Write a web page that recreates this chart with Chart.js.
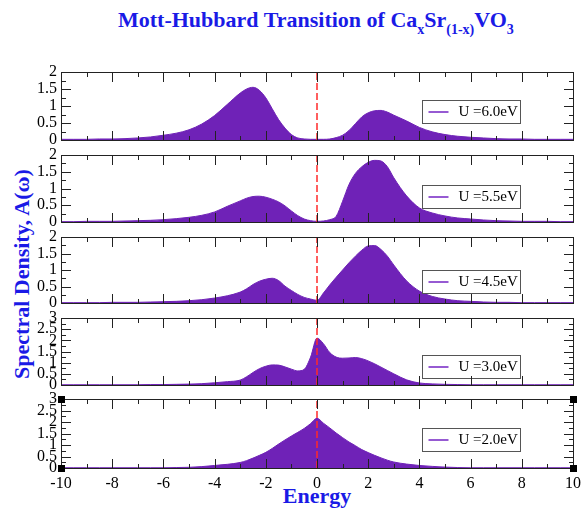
<!DOCTYPE html>
<html>
<head>
<meta charset="utf-8">
<script src="https://cdn.jsdelivr.net/npm/chart.js@4.4.1/dist/chart.umd.min.js"></script>
<style>
  html, body { margin: 0; padding: 0; background: #fff; }
  body { width: 583px; height: 512px; position: relative; overflow: hidden;
         font-family: 'Liberation Serif', 'Times New Roman', serif; }
  canvas { position: absolute; left: 0; }
  .label { position: absolute; font-weight: bold; color: #1a1ae6; white-space: nowrap;
           font-size: 22px; line-height: 22px; }
  #title { left: 118px; top: 9px; }
  #title sub { font-size: 14px; vertical-align: -7px; line-height: 0; }
  #y-title { left: -108px; top: 263px; width: 260px; text-align: center; transform: rotate(-90deg); }
  #x-title { left: 217px; top: 485px; width: 200px; text-align: center; }
  #overlay { position: absolute; left: 0; top: 0; width: 583px; height: 512px; z-index: 5; pointer-events: none; }
  .bar { position: absolute; }
  .box { position: absolute; box-sizing: border-box; border: 1px solid #222; }
</style>
</head>
<body>
<div id="title" class="label">Mott-Hubbard Transition of Ca<sub>x</sub>Sr<sub>(1-x)</sub>VO<sub>3</sub></div>
<div id="y-title" class="label">Spectral Density, A(ω)</div>
<div id="x-title" class="label">Energy</div>
<div id="overlay"></div>
<script>
'use strict';

// energy grid, finer around the Fermi level
const energy = [
    -10, -9.5, -9, -8.5, -8, -7.5, -7, -6.5, -6, -5.5, -5, -4.5, -4, -3.5,
    -3, -2.75, -2.5, -2.25, -2, -1.75, -1.5, -1.25, -1, -0.75, -0.5, -0.25,
    0, 0.25, 0.5, 0.75, 1, 1.25, 1.5, 1.75, 2, 2.25, 2.5, 2.75, 3,
    3.5, 4, 4.5, 5, 5.5, 6, 6.5, 7, 7.5, 8, 8.5, 9, 9.5, 10
];

const dosU60 = [
    0.02, 0.02, 0.02, 0.03, 0.03, 0.04, 0.06, 0.09, 0.14, 0.20, 0.30, 0.47, 0.72, 1.05,
    1.38, 1.50, 1.55, 1.46, 1.24, 0.92, 0.60, 0.35, 0.16, 0.06, 0.03, 0.02,
    0.02, 0.02, 0.03, 0.07, 0.14, 0.28, 0.48, 0.68, 0.80, 0.86, 0.87, 0.82, 0.73,
    0.56, 0.37, 0.24, 0.16, 0.11, 0.08, 0.06, 0.04, 0.03, 0.03, 0.02, 0.02, 0.02, 0.02
];

const dosU55 = [
    0.01, 0.01, 0.02, 0.02, 0.02, 0.03, 0.04, 0.05, 0.07, 0.10, 0.14, 0.20, 0.30, 0.47,
    0.63, 0.71, 0.76, 0.77, 0.74, 0.68, 0.60, 0.48, 0.33, 0.19, 0.09, 0.04,
    0.02, 0.03, 0.07, 0.17, 0.62, 1.12, 1.45, 1.65, 1.78, 1.84, 1.82, 1.65, 1.32,
    0.78, 0.42, 0.27, 0.18, 0.12, 0.09, 0.06, 0.04, 0.03, 0.02, 0.02, 0.02, 0.01, 0.01
];

const dosU45 = [
    0.01, 0.01, 0.01, 0.01, 0.02, 0.02, 0.02, 0.03, 0.04, 0.05, 0.07, 0.10, 0.15, 0.22,
    0.33, 0.43, 0.56, 0.66, 0.72, 0.75, 0.68, 0.51, 0.38, 0.26, 0.17, 0.12,
    0.08, 0.30, 0.55, 0.78, 1.00, 1.22, 1.42, 1.60, 1.73, 1.74, 1.62, 1.42, 1.15,
    0.67, 0.36, 0.20, 0.12, 0.07, 0.05, 0.03, 0.02, 0.02, 0.01, 0.01, 0.01, 0.01, 0.01
];

const dosU30 = [
    0.01, 0.01, 0.01, 0.01, 0.01, 0.01, 0.01, 0.02, 0.02, 0.03, 0.04, 0.06, 0.10, 0.15,
    0.22, 0.37, 0.56, 0.73, 0.84, 0.90, 0.89, 0.81, 0.71, 0.63, 0.70, 1.25,
    2.10, 1.85, 1.45, 1.25, 1.20, 1.21, 1.23, 1.18, 1.08, 0.95, 0.80, 0.65, 0.50,
    0.23, 0.09, 0.05, 0.03, 0.02, 0.01, 0.01, 0.01, 0.01, 0.01, 0.01, 0.01, 0.01, 0.01
];

const dosU20 = [
    0.01, 0.01, 0.01, 0.01, 0.01, 0.01, 0.01, 0.01, 0.01, 0.02, 0.03, 0.06, 0.11, 0.16,
    0.24, 0.32, 0.43, 0.55, 0.68, 0.85, 1.04, 1.22, 1.39, 1.55, 1.72, 1.93,
    2.16, 1.95, 1.74, 1.52, 1.32, 1.13, 0.97, 0.80, 0.67, 0.55, 0.44, 0.34, 0.26,
    0.17, 0.11, 0.07, 0.04, 0.02, 0.01, 0.01, 0.01, 0.01, 0.01, 0.01, 0.01, 0.01, 0.01
];

const seriesLabels = ['U =6.0eV', 'U =5.5eV', 'U =4.5eV', 'U =3.0eV', 'U =2.0eV'];
const seriesValues = [dosU60, dosU55, dosU45, dosU30, dosU20];
const yMaxima = [2, 2, 2, 3, 3];

// page layout of the five stacked panels (px)
const panelTops = [72, 155, 237, 318, 399];
const panelBottoms = [140, 222, 303, 385, 468];
const legendOffsets = [28, 30, 33, 37, 29];
const padTop = 14;
const padBottom = 14;
const padRight = 14;
const xAxisHeight = 30;

const fillColor = 'rgb(111, 34, 183)';
const legendLineColor = 'rgb(150, 90, 210)';
const tickColor = '#222222';

Chart.defaults.font.family = "'Liberation Serif', 'Times New Roman', serif";
Chart.defaults.font.size = 16;
Chart.defaults.color = '#000';

const overlay = document.getElementById('overlay');

const addBar = (x, y, w, h, color) => {
    const bar = document.createElement('div');
    bar.className = 'bar';
    bar.style.left = x + 'px';
    bar.style.top = y + 'px';
    bar.style.width = w + 'px';
    bar.style.height = h + 'px';
    bar.style.background = color;
    overlay.appendChild(bar);
};

const addBox = (x, y, w, h) => {
    const box = document.createElement('div');
    box.className = 'box';
    box.style.left = x + 'px';
    box.style.top = y + 'px';
    box.style.width = w + 'px';
    box.style.height = h + 'px';
    overlay.appendChild(box);
};

// frame, inward ticks and corner markers, placed from the chart's own scales
const framePlugin = {
    id: 'frame',
    afterDraw: (chart, args, opts) => {
        if (chart.$framed) return;
        chart.$framed = true;
        const a = chart.chartArea;
        const { x, y } = chart.scales;
        const dy = opts.canvasTop;
        const left = Math.round(a.left);
        const right = Math.round(a.right);
        const top = Math.round(a.top) + dy;
        const bottom = Math.round(a.bottom) + dy;

        addBox(left, top, right - left + 1, bottom - top + 1);

        x.ticks.forEach(t => {
            const px = Math.round(x.getPixelForValue(t.value));
            const len = t.value % 2 === 0 ? 10 : 5;
            addBar(px, top, 1, len, tickColor);
            addBar(px, bottom - len + 1, 1, len, tickColor);
        });
        y.ticks.forEach(t => {
            const py = Math.round(y.getPixelForValue(t.value)) + dy;
            const len = t.value % 0.5 === 0 ? 10 : 5;
            addBar(left, py, len, 1, tickColor);
            addBar(right - len + 1, py, len, 1, tickColor);
        });

        if (opts.markers) {
            [[left, top], [right, top], [left, bottom], [right, bottom]].forEach(([cx, cy]) => {
                addBar(cx - 3, cy - 3, 7, 7, '#000');
            });
        }
    }
};

const boxLegendPlugin = {
    id: 'boxLegend',
    afterDraw: (chart, args, opts) => {
        const { ctx, chartArea: a } = chart;
        const ly = Math.round(a.top + opts.offset) + 0.5;
        const lx = 422.5;
        ctx.save();
        ctx.fillStyle = '#fff';
        ctx.fillRect(lx, ly, 98, 23);
        ctx.strokeStyle = '#555555';
        ctx.lineWidth = 1;
        ctx.strokeRect(lx, ly, 98, 23);
        ctx.strokeStyle = legendLineColor;
        ctx.lineWidth = 2;
        ctx.beginPath();
        ctx.moveTo(lx + 6, ly + 11.5);
        ctx.lineTo(lx + 26, ly + 11.5);
        ctx.stroke();
        ctx.fillStyle = '#000';
        ctx.font = "15px 'Liberation Serif', 'Times New Roman', serif";
        ctx.textBaseline = 'middle';
        ctx.fillText(opts.text, lx + 36, ly + 12);
        ctx.restore();
    }
};

const buildPanel = (i) => {
    const isLast = i === seriesValues.length - 1;
    const height = panelBottoms[i] - panelTops[i] + padTop + (isLast ? xAxisHeight : padBottom);
    const canvasTop = panelTops[i] - padTop;
    const canvas = document.createElement('canvas');
    canvas.width = 583 + padRight - 10;
    canvas.height = height;
    canvas.style.top = canvasTop + 'px';
    document.body.appendChild(canvas);

    const points = energy.map((e, k) => ({ x: e, y: seriesValues[i][k] }));

    new Chart(canvas, {
        type: 'line',
        data: {
            datasets: [{
                label: seriesLabels[i],
                data: points,
                borderColor: fillColor,
                backgroundColor: fillColor,
                borderWidth: 1,
                pointRadius: 0,
                fill: 'origin',
                cubicInterpolationMode: 'monotone',
                order: 1
            }, {
                label: 'Fermi level',
                data: [{ x: 0, y: 0 }, { x: 0, y: yMaxima[i] }],
                borderColor: '#ff2a2a',
                borderWidth: 1.5,
                borderDash: [7, 3],
                pointRadius: 0,
                fill: false,
                order: 0
            }]
        },
        options: {
            responsive: false,
            devicePixelRatio: 1,
            animation: false,
            layout: { padding: { top: padTop, bottom: isLast ? 0 : padBottom, left: 0, right: padRight } },
            scales: {
                x: {
                    type: 'linear',
                    min: -10,
                    max: 10,
                    display: isLast,
                    grid: { display: false, drawTicks: false },
                    border: { display: false },
                    ticks: {
                        stepSize: 1,
                        autoSkip: false,
                        maxRotation: 0,
                        padding: 6,
                        callback: v => (v % 2 === 0 ? v : '')
                    },
                    afterFit: scale => { if (isLast) scale.height = xAxisHeight; }
                },
                y: {
                    min: 0,
                    max: yMaxima[i],
                    grid: { display: false, drawTicks: false },
                    border: { display: false },
                    ticks: {
                        stepSize: 0.25,
                        autoSkip: false,
                        padding: 4,
                        callback: v => (v % 0.5 === 0 ? String(v) : '')
                    },
                    afterFit: scale => { scale.width = 61; }
                }
            },
            plugins: {
                legend: { display: false },
                tooltip: { enabled: false },
                frame: { markers: isLast, canvasTop: canvasTop },
                boxLegend: { offset: legendOffsets[i], text: seriesLabels[i] }
            }
        },
        plugins: [boxLegendPlugin, framePlugin]
    });
};

seriesValues.forEach((values, i) => buildPanel(i));
</script>
</body>
</html>
